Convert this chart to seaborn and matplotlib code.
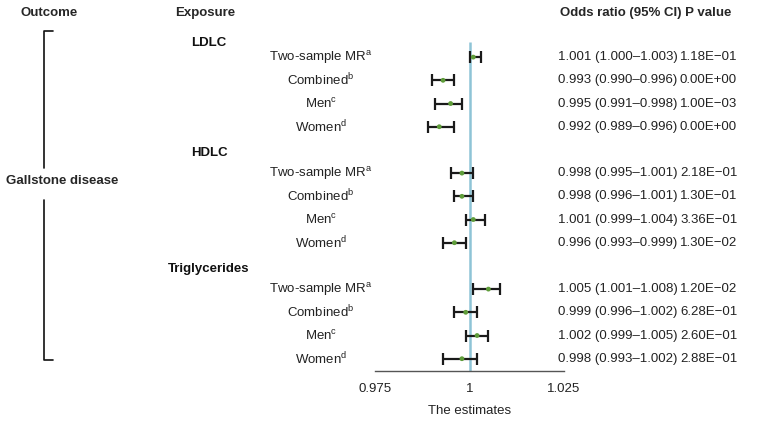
import matplotlib
matplotlib.use("Agg")
import matplotlib.pyplot as plt
import matplotlib.transforms as mtransforms
from matplotlib.lines import Line2D
import seaborn as sns
import pandas as pd

# data
groups = ["LDLC", "HDLC", "Triglycerides"]
methods = ["Two-sample MR", "Combined", "Men", "Women"]
sups = ["a", "b", "c", "d"]
or_est = [1.001, 0.993, 0.995, 0.992, 0.998, 0.998, 1.001, 0.996, 1.005, 0.999, 1.002, 0.998]
ci_low = [1.000, 0.990, 0.991, 0.989, 0.995, 0.996, 0.999, 0.993, 1.001, 0.996, 0.999, 0.993]
ci_high = [1.003, 0.996, 0.998, 0.996, 1.001, 1.001, 1.004, 0.999, 1.008, 1.002, 1.005, 1.002]
p_values = ["1.18E\u221201", "0.00E+00", "1.00E\u221203", "0.00E+00",
            "2.18E\u221201", "1.30E\u221201", "3.36E\u221201", "1.30E\u221202",
            "1.20E\u221202", "6.28E\u221201", "2.60E\u221201", "2.88E\u221201"]
x_ticks = [0.975, 1, 1.025]
x_tick_labels = ["0.975", "1", "1.025"]

# build a table, one row per estimate, with a slot for every group header
records = []
for g, group in enumerate(groups):
    for r, method in enumerate(methods):
        i = g * len(methods) + r
        records.append({
            "group": group,
            "method": method,
            "label": method + r"$^{\mathrm{%s}}$" % sups[r],
            "est": or_est[i],
            "lo": ci_low[i],
            "hi": ci_high[i],
            "p": p_values[i],
            "slot": g * (len(methods) + 1) + r + 1,
        })
df = pd.DataFrame(records)
df["ci_text"] = df.apply(lambda d: "%.3f (%.3f\u2013%.3f)" % (d["est"], d["lo"], d["hi"]), axis=1)

sns.set_style("white")
plt.rcParams["font.family"] = ["Liberation Sans", "DejaVu Sans"]
plt.rcParams["mathtext.fontset"] = "custom"
plt.rcParams["mathtext.rm"] = "Liberation Sans"
plt.rcParams["font.size"] = 9

W, H = 758, 422
fig = plt.figure(figsize=(W / 100, H / 100), dpi=100)


def px(x, y):
    # pixel coords (from top-left) -> figure fraction
    return x / W, 1 - y / H


# forest panel
y_bottom, y_top = 14.53, -0.6
left, bottom = px(375, 371)
right, top = px(564, 20)
ax = fig.add_axes([left, bottom, right - left, top - bottom])
ax.set_xlim(0.975, 1.025)
ax.set_ylim(y_bottom, y_top)

ax.vlines(1, 0.35, y_bottom, color="#8ec4d6", lw=1.8, zorder=1)
ax.errorbar(df["est"], df["slot"], xerr=[df["est"] - df["lo"], df["hi"] - df["est"]],
            fmt="none", ecolor="#1a1a1a", elinewidth=1.6, capsize=4.6, capthick=1.6, zorder=2)
sns.scatterplot(data=df, x="est", y="slot", ax=ax, marker="o", s=12, color="#5f9d3a",
                edgecolor="none", zorder=3, legend=False)

for side in ["top", "left", "right"]:
    ax.spines[side].set_visible(False)
ax.spines["bottom"].set_color("#555555")
ax.spines["bottom"].set_linewidth(1.0)
ax.spines["bottom"].set_bounds(0.975, 1.025)
ax.set_yticks([])
ax.set_xticks(x_ticks)
ax.set_xticklabels(x_tick_labels, fontsize=9.5, color="#222222")
ax.tick_params(axis="x", direction="out", length=4.5, width=1.0, color="#555555", pad=4)
ax.set_xlabel("The estimates", fontsize=9.5, color="#222222", labelpad=7)
ax.set_ylabel("")
ax.patch.set_alpha(0)

trans = mtransforms.blended_transform_factory(fig.transFigure, ax.transData)

# row labels and result columns
for _, d in df.iterrows():
    ax.text(321 / W, d["slot"], d["label"], transform=trans, ha="center", va="center",
            fontsize=9.5, color="#222222")
    ax.text(558 / W, d["slot"], d["ci_text"], transform=trans, ha="left", va="center",
            fontsize=9.5, color="#222222")
    ax.text(680 / W, d["slot"], d["p"], transform=trans, ha="left", va="center",
            fontsize=9.5, color="#222222")

# group headers (first one sits a little lower)
header_shift = [0.4, 0.15, 0.15]
for g, group in enumerate(groups):
    ax.text(209 / W, g * (len(methods) + 1) + header_shift[g], group, transform=trans,
            ha="center", va="center", fontsize=9.5, fontweight="bold", color="#111111")

# column headers
fig.text(*px(49, 13), "Outcome", ha="center", va="center", fontsize=9.5, fontweight="bold")
fig.text(*px(205, 13), "Exposure", ha="center", va="center", fontsize=9.5, fontweight="bold")
fig.text(*px(560, 13), "Odds ratio (95% CI) P value", ha="left", va="center",
         fontsize=9.5, fontweight="bold")

# outcome bracket
fig.text(*px(62, 181), "Gallstone disease", ha="center", va="center", fontsize=9.5,
         fontweight="bold")
for xs, ys in [([53, 44, 44], [31, 31, 168]), ([44, 44, 53], [200, 360, 360])]:
    pts = [px(x, y) for x, y in zip(xs, ys)]
    fig.add_artist(Line2D([p[0] for p in pts], [p[1] for p in pts], color="#111111", lw=1.2))

fig.savefig("out.png", dpi=100)
